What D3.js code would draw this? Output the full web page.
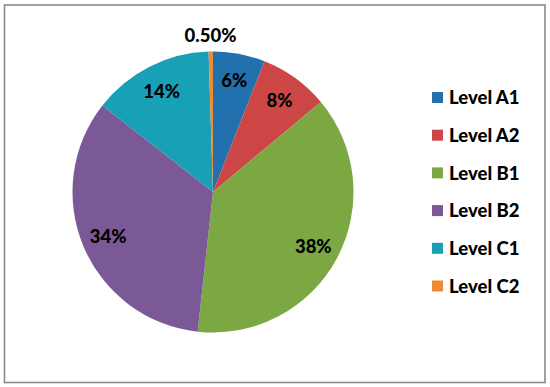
<!DOCTYPE html>
<html>
<head>
<meta charset="utf-8">
<script src="https://cdn.jsdelivr.net/npm/d3@7"></script>
<style>
  body { margin: 0; background: #fff; }
  text { font-family: Lato, "Open Sans", sans-serif; font-weight: 900; fill: #000; }
</style>
</head>
<body>
<div id="chart"></div>
<script>
// data
const levels = ["Level A1", "Level A2", "Level B1", "Level B2", "Level C1", "Level C2"];
const shares = [6, 8, 38, 34, 14, 0.5];
const shareLabels = ["6%", "8%", "38%", "34%", "14%", "0.50%"];
const colors = ["#2370ae", "#cd4646", "#7ba843", "#7b5896", "#18a0b7", "#f18a35"];

const width = 550;
const height = 387;
const cx = 213, cy = 192, r = 140.5;

const svg = d3.select("#chart")
    .append("svg")
    .attr("width", width)
    .attr("height", height);

// outer frame
svg.append("rect")
    .attr("x", 4.5)
    .attr("y", 5)
    .attr("width", 540.5)
    .attr("height", 377.5)
    .attr("fill", "none")
    .attr("stroke", "#8a8a8a")
    .attr("stroke-width", 1.6);

const data = levels.map((name, i) => ({ name: name, value: shares[i], label: shareLabels[i] }));

const pie = d3.pie()
    .value(d => d.value)
    .sort(null);

const arc = d3.arc().innerRadius(0).outerRadius(r);
const labelArc = d3.arc().innerRadius(r * 0.81).outerRadius(r * 0.81);
const outerLabelArc = d3.arc().innerRadius(r * 1.12).outerRadius(r * 1.12);

const g = svg.append("g").attr("transform", `translate(${cx},${cy})`);
const arcs = pie(data);

g.selectAll("path")
    .data(arcs)
    .enter()
    .append("path")
    .attr("d", arc)
    .attr("fill", (d, i) => colors[i]);

// slice labels, tiny slice goes outside
g.selectAll("text.pct")
    .data(arcs)
    .enter()
    .append("text")
    .attr("class", "pct")
    .attr("transform", d => {
        const p = d.data.value < 1 ? outerLabelArc.centroid(d) : labelArc.centroid(d);
        return `translate(${p[0]},${p[1]})`;
    })
    .attr("text-anchor", "middle")
    .attr("dy", "0.38em")
    .attr("font-size", "18.5px")
    .text(d => d.data.label);

// legend
const legendY = d3.scalePoint()
    .domain(levels)
    .range([97.5, 286]);

const legend = svg.append("g");
const items = legend.selectAll("g")
    .data(levels)
    .enter()
    .append("g")
    .attr("transform", d => `translate(432,${legendY(d)})`);

items.append("rect")
    .attr("x", 0)
    .attr("y", -5.5)
    .attr("width", 11)
    .attr("height", 11)
    .attr("fill", (d, i) => colors[i]);

items.append("text")
    .attr("x", 17)
    .attr("dy", "0.37em")
    .attr("font-size", "18.5px")
    .text(d => d);
</script>
</body>
</html>
